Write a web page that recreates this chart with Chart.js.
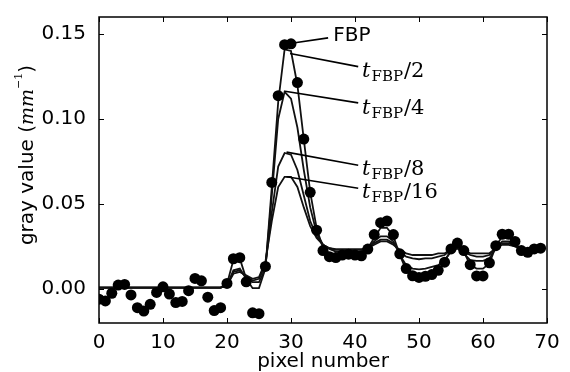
<!DOCTYPE html>
<html>
<head>
<meta charset="utf-8">
<script src="https://cdn.jsdelivr.net/npm/chart.js@4.4.1/dist/chart.umd.min.js"></script>
<style>
  html, body { margin: 0; padding: 0; background: #fff; }
</style>
</head>
<body>
<canvas id="profile" width="570" height="372"></canvas>
<script>
// pixel positions along the profile
var pixels = [0,1,2,3,4,5,6,7,8,9,10,11,12,13,14,15,16,17,18,19,
  20,21,22,23,24,25,26,27,28,29,30,31,32,33,34,35,36,37,38,39,
  40,41,42,43,44,45,46,47,48,49,50,51,52,53,54,55,56,57,58,59,
  60,61,62,63,64,65,66,67,68,69];

// FBP reconstruction (dots)
var fbp = [-0.006,-0.007,-0.0025,0.0023,0.0027,-0.0035,-0.011,-0.013,-0.009,-0.002,
  0.0013,-0.003,-0.008,-0.0073,-0.001,0.0062,0.0048,-0.0048,-0.0127,-0.011,
  0.0033,0.0178,0.0184,0.0042,-0.014,-0.0145,0.0133,0.0627,0.1137,0.1437,
  0.1442,0.1214,0.0882,0.0569,0.0346,0.0226,0.019,0.0185,0.020,0.0205,
  0.020,0.0195,0.0235,0.032,0.039,0.040,0.032,0.0207,0.012,0.0078,
  0.0068,0.0075,0.0085,0.011,0.0158,0.0236,0.027,0.0226,0.0143,0.0077,
  0.0077,0.0154,0.0255,0.0322,0.0322,0.028,0.0226,0.0216,0.0236,0.024];

// reduced-time reconstructions (lines)
var half = [0.0008,0.0008,0.0008,0.0008,0.0008,0.0008,0.0008,0.0008,0.0008,0.0008,
  0.0008,0.0008,0.0008,0.0008,0.0008,0.0008,0.0008,0.0008,0.0008,0.0008,
  0.003,0.017,0.018,0.006,0.0005,0.0005,0.012,0.060,0.110,0.141,
  0.140,0.120,0.088,0.057,0.036,0.024,0.021,0.0205,0.0205,0.0205,
  0.0205,0.0205,0.024,0.030,0.036,0.036,0.031,0.020,0.011,0.007,
  0.006,0.0065,0.008,0.011,0.016,0.023,0.026,0.022,0.014,0.012,
  0.012,0.015,0.025,0.031,0.031,0.027,0.023,0.022,0.023,0.024];
var quarter = [0.0008,0.0008,0.0008,0.0008,0.0008,0.0008,0.0008,0.0008,0.0008,0.0008,
  0.0008,0.0008,0.0008,0.0008,0.0008,0.0008,0.0008,0.0008,0.0008,0.0008,
  0.002,0.011,0.012,0.006,0.004,0.004,0.012,0.055,0.100,0.116,
  0.112,0.095,0.070,0.048,0.033,0.026,0.0235,0.022,0.022,0.022,
  0.022,0.022,0.024,0.028,0.031,0.031,0.028,0.020,0.014,0.012,
  0.0115,0.012,0.013,0.014,0.017,0.022,0.024,0.021,0.017,0.0165,
  0.0165,0.018,0.024,0.028,0.028,0.026,0.023,0.0225,0.023,0.0235];
var eighth = [0.0008,0.0008,0.0008,0.0008,0.0008,0.0008,0.0008,0.0008,0.0008,0.0008,
  0.0008,0.0008,0.0008,0.0008,0.0008,0.0008,0.0008,0.0008,0.0008,0.0008,
  0.002,0.010,0.011,0.007,0.005,0.006,0.014,0.045,0.072,0.080,
  0.079,0.070,0.055,0.040,0.031,0.026,0.024,0.023,0.023,0.023,
  0.023,0.023,0.024,0.027,0.029,0.029,0.027,0.022,0.019,0.018,
  0.0175,0.018,0.018,0.019,0.020,0.023,0.024,0.022,0.020,0.019,
  0.019,0.020,0.024,0.027,0.027,0.025,0.0235,0.023,0.023,0.0235];
var sixteenth = [0.0008,0.0008,0.0008,0.0008,0.0008,0.0008,0.0008,0.0008,0.0008,0.0008,
  0.0008,0.0008,0.0008,0.0008,0.0008,0.0008,0.0008,0.0008,0.0008,0.0008,
  0.002,0.009,0.010,0.008,0.006,0.007,0.016,0.040,0.060,0.066,
  0.066,0.060,0.048,0.037,0.030,0.026,0.024,0.0235,0.0235,0.0235,
  0.0235,0.0235,0.024,0.026,0.028,0.028,0.026,0.023,0.021,0.020,
  0.020,0.020,0.020,0.021,0.021,0.023,0.024,0.023,0.021,0.021,
  0.021,0.021,0.024,0.026,0.026,0.025,0.024,0.0235,0.0235,0.0235];

var xTicks = [0,10,20,30,40,50,60,70];
var yTicks = [0.00,0.05,0.10,0.15];

// label text, leader start/end and text anchor, all in data units
var notes = [
  {div: null, from: [30.35,0.1447], to: [35.8,0.1477], at: [36.6,0.1458]},
  {div: '2',  from: [29.85,0.1385], to: [40.5,0.1308], at: [41.1,0.1250]},
  {div: '4',  from: [29.06,0.1163], to: [40.5,0.1095], at: [41.1,0.1027]},
  {div: '8',  from: [29.3,0.0805],  to: [40.5,0.0728], at: [41.1,0.0670]},
  {div: '16', from: [29.3,0.0660],  to: [40.5,0.0593], at: [41.1,0.0535]}
];

function pts(vals) {
  return pixels.map(function (p, i) { return {x: p, y: vals[i]}; });
}
function lineSet(vals) {
  return {
    data: pts(vals), showLine: true, borderColor: '#111', borderWidth: 1.8,
    pointRadius: 0, fill: false, tension: 0, clip: 0
  };
}

var framePlugin = {
  id: 'frame',
  afterDraw: function (chart) {
    var ctx = chart.ctx, xs = chart.scales.x, ys = chart.scales.y, a = chart.chartArea;
    ctx.save();
    ctx.strokeStyle = '#000';
    ctx.lineWidth = 1.5;
    ctx.strokeRect(a.left, a.top, a.right - a.left, a.bottom - a.top);
    ctx.lineWidth = 1;
    ctx.beginPath();
    xTicks.forEach(function (v) {
      var px = Math.round(xs.getPixelForValue(v)) + 0.5;
      ctx.moveTo(px, a.bottom); ctx.lineTo(px, a.bottom - 5);
      ctx.moveTo(px, a.top); ctx.lineTo(px, a.top + 5);
    });
    yTicks.forEach(function (v) {
      var py = Math.round(ys.getPixelForValue(v)) + 0.5;
      ctx.moveTo(a.left, py); ctx.lineTo(a.left + 5, py);
      ctx.moveTo(a.right, py); ctx.lineTo(a.right - 5, py);
    });
    ctx.stroke();

    // leaders and labels
    ctx.lineWidth = 1.6;
    ctx.fillStyle = '#000';
    ctx.textBaseline = 'alphabetic';
    notes.forEach(function (n) {
      ctx.beginPath();
      ctx.moveTo(xs.getPixelForValue(n.from[0]), ys.getPixelForValue(n.from[1]));
      ctx.lineTo(xs.getPixelForValue(n.to[0]), ys.getPixelForValue(n.to[1]));
      ctx.stroke();
      var x = xs.getPixelForValue(n.at[0]), y = ys.getPixelForValue(n.at[1]);
      if (n.div === null) {
        ctx.font = "20px 'DejaVu Sans'";
        ctx.fillText('FBP', x, y);
      } else {
        ctx.font = "italic 21px 'DejaVu Serif'";
        ctx.fillText('t', x, y);
        x += ctx.measureText('t').width + 1;
        ctx.font = "15px 'DejaVu Serif'";
        ctx.fillText('FBP', x, y + 4);
        x += ctx.measureText('FBP').width + 1;
        ctx.font = "21px 'DejaVu Serif'";
        ctx.fillText('/' + n.div, x, y);
      }
    });

    // axis titles
    ctx.font = "20px 'DejaVu Sans'";
    ctx.textAlign = 'center';
    ctx.textBaseline = 'middle';
    ctx.fillText('pixel number', (a.left + a.right) / 2, 362);

    ctx.translate(28, 155);
    ctx.rotate(-Math.PI / 2);
    var parts = [
      {t: 'gray value (', f: "20px 'DejaVu Sans'", dy: 0},
      {t: 'mm', f: "italic 19px 'DejaVu Serif'", dy: 0},
      {t: '\u22121', f: "11px 'DejaVu Serif'", dy: -9},
      {t: ')', f: "20px 'DejaVu Sans'", dy: 0}
    ];
    var total = 0;
    parts.forEach(function (p) { ctx.font = p.f; p.w = ctx.measureText(p.t).width; total += p.w; });
    var cx = -total / 2;
    ctx.textAlign = 'left';
    parts.forEach(function (p) { ctx.font = p.f; ctx.fillText(p.t, cx, p.dy); cx += p.w; });
    ctx.restore();
  }
};

Chart.defaults.font.family = "'DejaVu Sans', sans-serif";
Chart.defaults.font.size = 20;
Chart.defaults.color = '#000';

var chart = new Chart(document.getElementById('profile'), {
  type: 'scatter',
  data: {
    datasets: [
      {data: pts(fbp), backgroundColor: '#000', borderColor: '#000', pointRadius: 5.5,
       pointHoverRadius: 5.5, borderWidth: 0, clip: 0},
      lineSet(half),
      lineSet(quarter),
      lineSet(eighth),
      lineSet(sixteenth)
    ]
  },
  options: {
    responsive: false,
    animation: false,
    events: [],
    layout: { padding: { left: 0, top: 13, right: 23, bottom: 0 } },
    plugins: { legend: { display: false }, tooltip: { enabled: false } },
    scales: {
      x: {
        type: 'linear', min: 0, max: 70,
        grid: { display: false }, border: { display: false },
        afterBuildTicks: function (s) { s.ticks = xTicks.map(function (v) { return {value: v}; }); },
        afterFit: function (s) { s.height = 49; },
        ticks: { padding: 0, maxRotation: 0 }
      },
      y: {
        type: 'linear', min: -0.02, max: 0.16,
        grid: { display: false }, border: { display: false },
        afterBuildTicks: function (s) { s.ticks = yTicks.map(function (v) { return {value: v}; }); },
        afterFit: function (s) { s.width = 99; },
        ticks: { padding: 5, callback: function (v) { return v.toFixed(2); } }
      }
    }
  },
  plugins: [framePlugin]
});
</script>
</body>
</html>
